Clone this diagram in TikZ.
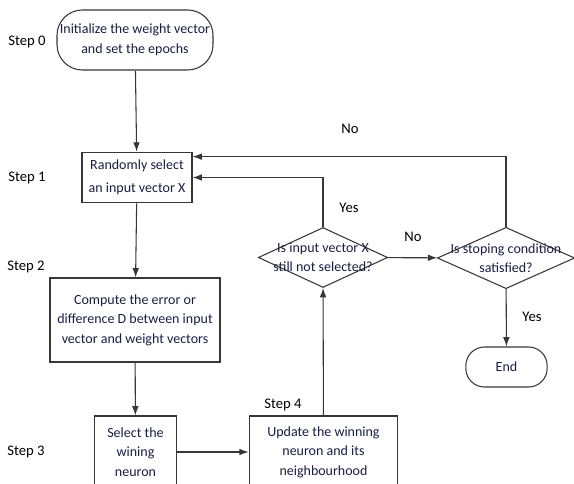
\documentclass[tikz,border=0pt]{standalone}
\usepackage{fontspec}
\setmainfont{Carlito}
\usetikzlibrary{shapes.geometric,arrows.meta,calc}

\definecolor{txtblue}{RGB}{25,30,70}
\definecolor{linegray}{RGB}{55,55,55}

\tikzset{
  flowbox/.style={draw=linegray, line width=0.8pt, fill=white, align=center,
    text=txtblue, inner sep=0pt, font=\fontsize{10.5}{14.6}\selectfont},
  pill/.style={flowbox, rounded corners=#1},
  decision/.style={draw=linegray, line width=0.8pt, fill=white, diamond,
    inner sep=0pt},
  steplabel/.style={font=\fontsize{11}{13}\selectfont, text=black},
  flowline/.style={draw=linegray, line width=0.8pt},
  flowarrow/.style={flowline, -{Latex[length=7pt,width=5pt]}},
}

\begin{document}
\begin{tikzpicture}[x=0.75pt, y=-0.75pt]
        \useasboundingbox (0,0) rectangle (574,484);

        % ==========================================
        % Colonna sinistra: passi 0-3
        % ==========================================
        \node[pill=19pt, minimum width=117pt, minimum height=45pt] (init) at (135,40)
          {Initialize the weight vector\\and set the epochs};
        \node[flowbox, minimum width=82.5pt, minimum height=38pt] (select) at (137,177.5)
          {Randomly select\\[3pt]an input vector X};
        \node[flowbox, minimum width=127.5pt, minimum height=63pt] (error) at (135,320)
          {Compute the error or\\difference D between input\\vector and weight vectors};
        \node[flowbox, minimum width=61pt, minimum height=54pt] (winner) at (135.5,452)
          {Select the\\wining\\neuron};

        % Etichette dei passi
        \node[steplabel] (s0) at (27,42) {Step 0};
        \node[steplabel] (s1) at (27,178) {Step 1};
        \node[steplabel] (s2) at (26,267) {Step 2};
        \node[steplabel] (s3) at (26,452) {Step 3};
        \node[steplabel] (s4) at (283,405) {Step 4};

        % ==========================================
        % Colonna destra: aggiornamento e decisioni
        % ==========================================
        \node[flowbox, minimum width=111.5pt, minimum height=54pt] (update) at (323.5,452)
          {Update the winning\\neuron and its\\neighbourhood};

        \node[decision, minimum width=97pt, minimum height=45pt,
          label={[text=txtblue, align=center, font=\fontsize{10.5}{14.6}\selectfont]center:Is input vector X\\still not selected?}]
          (notsel) at (323,257.5) {};
        \node[decision, minimum width=103pt, minimum height=46pt,
          label={[text=txtblue, align=center, font=\fontsize{10.5}{14.6}\selectfont]center:Is stoping condition\\satisfied?}]
          (stop) at (506,258) {};

        \node[pill=14pt, minimum width=61pt, minimum height=30pt] (finish) at (506.5,367) {End};

        % Etichette dei rami
        \node[steplabel] (nostop) at (350,129) {No};
        \node[steplabel] (yessel) at (349,208) {Yes};
        \node[steplabel] (nosel) at (413,237) {No};
        \node[steplabel] (yesstop) at (532,317) {Yes};

        % ==========================================
        % Frecce
        % ==========================================
        \draw[flowarrow] (init) -- (select);
        \draw[flowarrow] (select) -- (error);
        \draw[flowarrow] (error) -- (winner);
        \draw[flowarrow] (winner) -- (update);
        \draw[flowarrow] (update) -- (notsel);
        \draw[flowarrow] (notsel.north) |- (select.east);
        \draw[flowarrow] (notsel) -- (stop);
        \coordinate (loopin) at ($(select.north east)+(0,5)$);
        \draw[flowarrow] (stop.north) |- (loopin);
        \draw[flowarrow] (stop) -- (finish);

\end{tikzpicture}
\end{document}
